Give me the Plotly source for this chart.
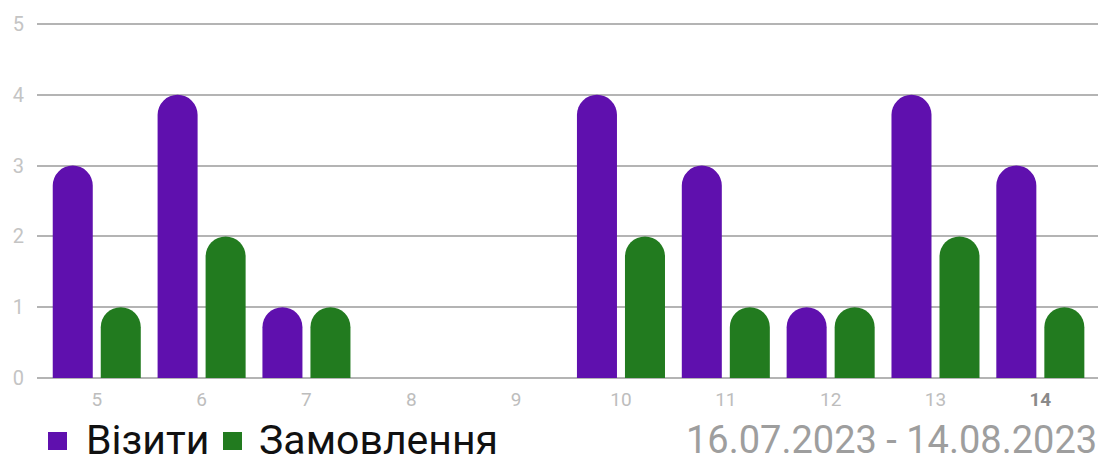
import plotly.graph_objects as go

# Days of the period (x categories) and daily counts
days = [5, 6, 7, 8, 9, 10, 11, 12, 13, 14]
day_labels = ["5", "6", "7", "8", "9", "10", "11", "12", "13", "14"]
visits = [3, 4, 1, 0, 0, 4, 3, 1, 4, 3]
orders = [1, 2, 1, 0, 0, 2, 1, 1, 2, 1]

series_names = ["Візити", "Замовлення"]
series_colors = ["#5F10AE", "#227B1F"]
period_text = "16.07.2023 - 14.08.2023"

FONT = "Roboto"
GRID = "#B4B4B4"

# plot area in pixels (a little headroom above the top gridline)
PL, PT, PW, PH = 37, 20, 1061, 358
UNIT_PX = 70.8

fig = go.Figure()
for name, vals, color in zip(series_names, [visits, orders], series_colors):
    fig.add_trace(go.Bar(
        x=days, y=vals, name=name,
        marker=dict(color=color, cornerradius=20, line=dict(width=0)),
        showlegend=False,
    ))

# the last day label is emphasised
tick_text = [f"<b><span style='color:#8A8A8A'>{t}</span></b>" if i == len(day_labels) - 1 else t
             for i, t in enumerate(day_labels)]

fig.update_layout(
    width=1104, height=463,
    margin=dict(l=PL, r=1104 - PL - PW, t=PT, b=463 - PT - PH),
    paper_bgcolor="white", plot_bgcolor="white",
    barmode="group", bargap=0.084, bargroupgap=1 / 6,
    font=dict(family=FONT),
    xaxis=dict(
        range=[4.43, 14.55], tickmode="array", tickvals=days, ticktext=tick_text,
        showgrid=False, zeroline=False, showline=False, ticks="",
        tickfont=dict(size=19, color="#BDBDBD", family=FONT),
        ticklabelstandoff=8,
    ),
    yaxis=dict(
        range=[0, PH / UNIT_PX], tickmode="array", tickvals=[0, 1, 2, 3, 4, 5],
        showgrid=True, gridcolor=GRID, gridwidth=1.6,
        zeroline=True, zerolinecolor=GRID, zerolinewidth=1.6,
        showline=False, ticks="",
        tickfont=dict(size=20, color="#C4C4C4", family=FONT),
        ticklabelstandoff=12,
    ),
)


def px_to_paper_y(py):
    return (PT + PH - py) / PH


def px_to_paper_x(px):
    return (px - PL) / PW


# legend row: colour squares with series names
legend_x = [48, 223]
label_x = [84, 257]
for lx, tx, name, color in zip(legend_x, label_x, series_names, series_colors):
    fig.add_shape(type="rect", xref="paper", yref="paper",
                  x0=px_to_paper_x(lx), x1=px_to_paper_x(lx + 19),
                  y0=px_to_paper_y(450), y1=px_to_paper_y(432),
                  fillcolor=color, line=dict(width=0))
    fig.add_annotation(xref="paper", yref="paper",
                       x=px_to_paper_x(tx), y=px_to_paper_y(440),
                       xanchor="left", yanchor="middle", showarrow=False,
                       text=name, font=dict(size=41, color="#111111", family=FONT))

fig.add_annotation(xref="paper", yref="paper", x=px_to_paper_x(1099), y=px_to_paper_y(440),
                   xanchor="right", yanchor="middle", showarrow=False,
                   text=period_text, font=dict(size=38, color="#9E9E9E", family=FONT))

fig.write_html("out.html")
